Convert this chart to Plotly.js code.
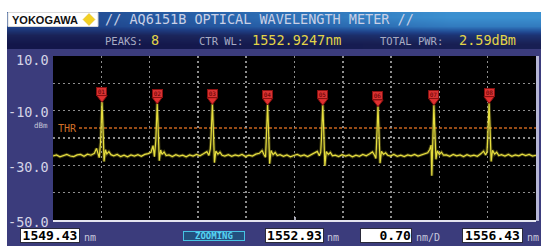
<!DOCTYPE html>
<html>
<head>
<meta charset="utf-8">
<script src="https://cdn.plot.ly/plotly-3.0.1.min.js"></script>
<style>html,body{margin:0;padding:0;background:#fff;}#chart{width:541px;height:246px;}</style>
</head>
<body>
<div id="chart"></div>
<script>
// ---- data ----
var wavelengthNm = [
  1549.43,1549.48,1549.53,1549.58,1549.63,1549.68,1549.73,1549.78,1549.83,1549.88,1549.93,1549.98,1550.03,
  1550.06,1550.08,1550.10,1550.12,1550.13,1550.14,1550.15,1550.16,1550.17,1550.19,1550.21,1550.24,1550.27,
  1550.31,1550.36,1550.41,1550.46,1550.51,1550.56,1550.61,1550.66,1550.71,1550.76,1550.81,
  1550.85,1550.88,1550.90,1550.92,1550.93,1550.94,1550.95,1550.96,1550.97,1550.99,1551.01,1551.04,1551.07,
  1551.11,1551.16,1551.21,1551.26,1551.31,1551.36,1551.41,1551.46,1551.51,1551.56,1551.61,
  1551.66,1551.69,1551.71,1551.72,1551.73,1551.74,1551.75,1551.76,1551.77,1551.79,1551.82,1551.85,1551.88,
  1551.92,1551.97,1552.02,1552.07,1552.12,1552.17,1552.22,1552.27,1552.32,1552.37,1552.42,
  1552.46,1552.49,1552.51,1552.52,1552.53,1552.54,1552.55,1552.56,1552.57,1552.59,1552.62,1552.65,1552.68,
  1552.72,1552.77,1552.82,1552.87,1552.92,1552.97,1553.02,1553.07,1553.12,1553.17,1553.22,
  1553.26,1553.29,1553.31,1553.32,1553.33,1553.34,1553.35,1553.36,1553.37,1553.39,1553.42,1553.45,1553.48,
  1553.52,1553.57,1553.62,1553.67,1553.72,1553.77,1553.82,1553.87,1553.92,1553.97,1554.02,
  1554.06,1554.09,1554.11,1554.12,1554.13,1554.14,1554.15,1554.16,1554.17,1554.19,1554.22,1554.25,1554.28,
  1554.32,1554.37,1554.42,1554.47,1554.52,1554.57,1554.62,1554.67,1554.72,1554.77,1554.82,
  1554.86,1554.89,1554.91,1554.92,1554.935,1554.95,1554.96,1554.97,1554.98,1555.00,1555.03,1555.06,1555.09,
  1555.13,1555.18,1555.23,1555.28,1555.33,1555.38,1555.43,1555.48,1555.53,1555.58,1555.63,
  1555.67,1555.70,1555.72,1555.73,1555.74,1555.75,1555.76,1555.77,1555.78,1555.80,1555.83,1555.86,1555.89,
  1555.93,1555.98,1556.03,1556.08,1556.13,1556.18,1556.23,1556.28,1556.33,1556.38,1556.43
];
var powerDbm = [
  -26.6,-26.2,-26.9,-26.3,-26.0,-26.6,-26.8,-26.2,-26.0,-26.7,-25.9,-26.3,-25.6,
  -23.8,-25.9,-27.2,-21.5,-14.5,-6.8,-13.0,-20.5,-28.6,-24.3,-25.8,-25.0,-26.1,
  -26.5,-26.0,-26.8,-26.3,-26.9,-26.2,-26.6,-26.1,-26.7,-26.0,-25.7,
  -25.2,-22.8,-26.8,-21.0,-14.8,-7.4,-13.6,-21.4,-28.3,-24.4,-26.0,-25.1,-26.4,
  -26.2,-26.8,-26.1,-26.6,-26.3,-26.9,-26.2,-26.6,-26.0,-26.5,-25.8,
  -25.0,-26.4,-24.0,-20.2,-14.6,-7.6,-14.2,-21.8,-29.0,-24.8,-25.9,-25.2,-26.3,
  -26.6,-26.1,-26.7,-26.2,-26.5,-26.0,-26.8,-26.3,-26.6,-25.9,-25.6,
  -24.6,-26.2,-27.0,-21.2,-14.9,-7.8,-14.4,-22.0,-29.4,-24.6,-26.1,-25.3,-26.4,
  -26.1,-26.7,-26.2,-26.9,-26.4,-26.0,-26.6,-26.2,-26.8,-26.1,-25.7,
  -24.9,-26.5,-25.2,-20.6,-14.8,-7.9,-14.6,-22.4,-30.2,-25.0,-26.0,-25.3,-26.5,
  -26.3,-26.8,-26.1,-26.6,-26.2,-26.9,-26.3,-26.7,-26.0,-26.5,-25.8,
  -25.1,-26.3,-27.5,-21.6,-15.2,-8.4,-15.0,-22.2,-29.2,-24.9,-26.0,-25.4,-26.3,
  -26.6,-26.0,-26.7,-26.3,-26.8,-26.2,-26.5,-26.0,-26.6,-26.1,-25.7,
  -25.4,-24.2,-22.6,-33.8,-19.0,-7.9,-14.8,-22.0,-27.8,-24.7,-26.0,-25.2,-26.3,
  -26.2,-26.7,-26.0,-26.5,-26.2,-26.8,-26.1,-26.6,-26.3,-26.7,-25.8,
  -24.8,-26.2,-25.0,-20.4,-14.2,-7.2,-13.8,-21.5,-28.6,-24.5,-25.9,-25.2,-26.4,
  -26.1,-26.6,-26.0,-26.7,-26.2,-26.5,-25.9,-26.4,-26.0,-26.6,-26.3
];
var peakWl = [1550.14,1550.94,1551.74,1552.54,1553.34,1554.14,1554.95,1555.75];
var peakPow = [-6.8,-7.4,-7.6,-7.8,-7.9,-8.4,-7.9,-7.2];
var peakLabels = ["01","02","03","04","05","06","07","08"];
var thresholdDbm = -16.3;
var yTickVals = [10,-10,-30,-50];
var yTickText = ["10.0","-10.0","-30.0","-50.0"];
var startWl = "1549.43", centerWl = "1552.93", spanPerDiv = "0.70", stopWl = "1556.43";
var peaksCount = "8", ctrWl = "1552.9247nm", totalPwr = "2.59dBm";
var xMin = 1549.43, xMax = 1556.43, xDiv = 0.70;

// ---- geometry helpers (pixel -> paper) ----
var W = 541, H = 246;
function px(x){ return x / W; }
function py(y){ return 1 - y / H; }

var xGrid = [];
for (var k = 1; k < 10; k++) xGrid.push(+(xMin + k * xDiv).toFixed(2));

var MONO = "DejaVu Sans Mono";

var traces = [
  { // header gradient (decoration)
    type: "heatmap", xaxis: "x2", yaxis: "y2",
    z: [[0.0,0.05,0.10],[0.14,0.22,0.32],[0.50,0.68,0.86],[0.56,0.78,1.0]],
    x: [0,1,2], y: [0,1,2,3], zsmooth: "best", showscale: false, hoverinfo: "skip",
    zmin: 0, zmax: 1,
    colorscale: [[0,"#13164a"],[0.15,"#1a2358"],[0.45,"#1e3f86"],[0.7,"#2862aa"],[1,"#3b90d0"]]
  },
  { // glow
    type: "scatter", mode: "lines", x: wavelengthNm, y: powerDbm,
    line: { color: "rgba(230,220,60,0.28)", width: 3.2 }, hoverinfo: "skip"
  },
  {
    type: "scatter", mode: "lines", x: wavelengthNm, y: powerDbm,
    line: { color: "#e6de3e", width: 1.2 }, hoverinfo: "skip"
  },
  { // peak triangles
    type: "scatter", mode: "markers", x: peakWl,
    y: peakPow.map(function(v){ return v + 1.5; }),
    marker: { symbol: "triangle-down", size: 9, color: "#e03030", line: { color: "#8a1010", width: 1 } },
    hoverinfo: "skip"
  }
];

var shapes = [
  { type: "rect", xref: "paper", yref: "paper", x0: 0, x1: 1, y0: py(12), y1: 1, fillcolor: "#ffffff", line: { width: 0 }, layer: "below" },
  { type: "rect", xref: "paper", yref: "paper", x0: 0, x1: px(7), y0: 0, y1: 1, fillcolor: "#ffffff", line: { width: 0 }, layer: "below" },
  { type: "rect", xref: "paper", yref: "paper", x0: px(8), x1: px(98), y0: py(26.5), y1: py(12.5), fillcolor: "#ffffff", line: { color: "#d8d8d8", width: 1 }, layer: "above" },
  { type: "path", xref: "paper", yref: "paper", layer: "above",
    path: "M " + px(83) + "," + py(19.5) + " L " + px(89) + "," + py(13.5) + " L " + px(95) + "," + py(19.5) + " L " + px(89) + "," + py(25.5) + " Z",
    fillcolor: "#f2d024", line: { color: "#e0b818", width: 0.5 } },
  { type: "line", xref: "paper", yref: "y", x0: px(79), x1: px(536), y0: thresholdDbm, y1: thresholdDbm,
    line: { color: "#c8641e", width: 1.5, dash: "3px,2px" }, layer: "between" },
  { type: "rect", xref: "paper", yref: "paper", x0: px(536), x1: px(539), y0: py(221), y1: py(56), fillcolor: "#b6b6d6", line: { width: 0 }, layer: "above" },
  { type: "line", xref: "paper", yref: "paper", x0: px(295), x1: px(295), y0: py(221), y1: py(217), line: { color: "#d8d8e8", width: 1.5 }, layer: "above" }
];

var annotations = [];
function txt(t, x, y, size, color, anchor, opts) {
  var a = { text: t, xref: "paper", yref: "paper", x: px(x), y: py(y), xanchor: anchor || "left", yanchor: "middle",
            showarrow: false, font: { family: MONO, size: size, color: color } };
  if (opts) for (var k in opts) a[k] = opts[k];
  annotations.push(a);
}
annotations.push({ text: "<b>YOKOGAWA</b>", xref: "paper", yref: "paper", x: px(10), y: py(19.8), xanchor: "left", yanchor: "middle",
  showarrow: false, font: { family: "Liberation Sans", size: 11, color: "#111111" } });
txt("// AQ6151B OPTICAL WAVELENGTH METER //", 103, 19.5, 13.5, "#c9d0e6");
txt("PEAKS:", 103, 40.5, 10.5, "#a8acc4");
txt(peaksCount, 149, 39.5, 13.5, "#e2d448");
txt("CTR WL:", 197, 40.5, 10.5, "#a8acc4");
txt(ctrWl, 250, 39.5, 13.5, "#e2d448");
txt("TOTAL PWR:", 378, 40.5, 10.5, "#a8acc4");
txt(totalPwr, 457, 39.5, 13.5, "#e2d448");
for (var i = 0; i < yTickVals.length; i++) {
  annotations.push({ text: yTickText[i], xref: "paper", yref: "y", x: px(50.5), y: yTickVals[i], yshift: (i === 0 ? -4 : -1.5),
    xanchor: "right", yanchor: "middle", showarrow: false, font: { family: MONO, size: 13.5, color: "#d4d4e6" } });
}
txt("dBm", 50, 125.5, 7.5, "#c4c4d8", "right");
txt("THR", 56, 128.5, 10, "#d0702a");
for (var j = 0; j < peakWl.length; j++) {
  annotations.push({ text: peakLabels[j], xref: "x", yref: "y", x: peakWl[j], y: peakPow[j], yshift: 10.5,
    xanchor: "center", yanchor: "middle", showarrow: false, width: 9, height: 7, borderpad: 0,
    bgcolor: "#d83232", bordercolor: "#8a1010", borderwidth: 1,
    font: { family: MONO, size: 6, color: "#5a0000" } });
}
function box(t, cx, w, align) {
  annotations.push({ text: "<b>" + t + "</b>", xref: "paper", yref: "paper", x: px(cx), y: py(235.5), xanchor: "center", yanchor: "middle",
    showarrow: false, width: w, height: 13, align: align || "center", borderpad: 0,
    bgcolor: "#ffffff", bordercolor: "#2a2a3a", borderwidth: 1, font: { family: MONO, size: 13, color: "#000000" } });
}
box(startWl, 50, 58);
txt("nm", 82, 237, 10, "#c8c8dc");
annotations.push({ text: "<b>ZOOMING</b>", xref: "paper", yref: "paper", x: px(214), y: py(236), xanchor: "center", yanchor: "middle",
  showarrow: false, width: 60, height: 8, borderpad: 0, bgcolor: "#23507e", bordercolor: "#46c4e4", borderwidth: 1,
  font: { family: MONO, size: 9, color: "#58d4f4" } });
box(centerWl, 294, 57);
txt("nm", 325, 237, 10, "#c8c8dc");
box(spanPerDiv, 386, 50, "right");
txt("nm/D", 414, 237, 10, "#c8c8dc");
box(stopWl, 492, 59);
txt("nm", 525, 237, 10, "#c8c8dc");

var gridStyle = { showgrid: true, gridcolor: "#8e8e8e", gridwidth: 1.5, griddash: "2px,3px" };

var layout = {
  width: W, height: H, margin: { l: 0, r: 0, t: 0, b: 0 },
  paper_bgcolor: "#3b3c7c", plot_bgcolor: "#000000", showlegend: false,
  xaxis: Object.assign({ domain: [px(53), px(536)], range: [xMin, xMax], tickvals: xGrid, showticklabels: false,
    ticks: "", zeroline: false, showline: true, linecolor: "#e4e4f0", linewidth: 2, fixedrange: true }, gridStyle),
  yaxis: Object.assign({ domain: [py(220), py(56)], range: [-50, 10], tickvals: [0,-10,-20,-30,-40], showticklabels: false,
    ticks: "", zeroline: false, showline: false, fixedrange: true }, gridStyle),
  xaxis2: { domain: [px(7), 1], anchor: "y2", visible: false, fixedrange: true },
  yaxis2: { domain: [py(49), py(12)], anchor: "x2", visible: false, fixedrange: true },
  shapes: shapes, annotations: annotations
};

Plotly.newPlot("chart", traces, layout, { staticPlot: true, displayModeBar: false });
</script>
</body>
</html>
